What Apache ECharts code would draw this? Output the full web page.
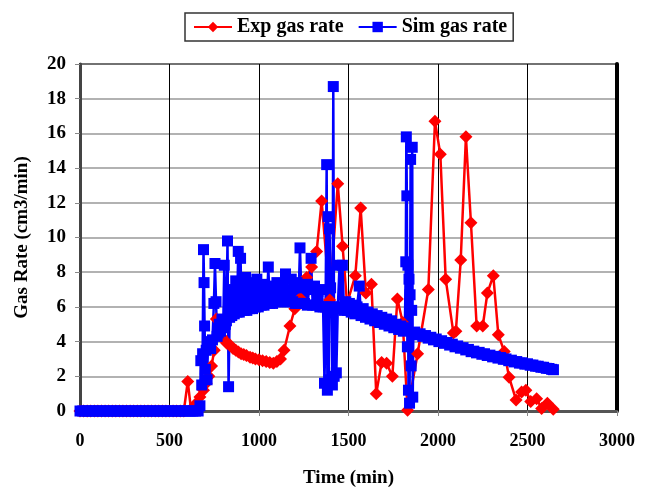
<!DOCTYPE html>
<html>
<head>
<meta charset="utf-8">
<script src="https://cdn.jsdelivr.net/npm/echarts@6/dist/echarts.min.js"></script>
<style>
  html, body { margin: 0; padding: 0; background: #fff; }
  #chart { width: 648px; height: 491px; }
</style>
</head>
<body>
<div id="chart"></div>
<script>
// Exp gas rate (time in min, rate in cm3/min)
var expTime = [0, 20, 40, 60, 80, 100, 120, 140, 160, 180, 200, 220, 240, 260, 280, 300, 320, 340, 360, 380, 400, 420, 440, 460, 480, 500, 520, 540, 560,
  580, 602, 620, 640, 655, 670, 690, 705, 720, 735, 750, 762, 775, 790, 805, 820, 838, 855, 870, 885, 900, 915, 930, 950, 965, 980,
  1000, 1020, 1040, 1060, 1080, 1100, 1120, 1140, 1173, 1200, 1230, 1266, 1294, 1322, 1350, 1395, 1440, 1467, 1492, 1538, 1568,
  1597, 1628, 1655, 1685, 1713, 1745, 1773, 1803, 1830, 1886, 1946, 1983, 2013, 2043, 2086, 2100, 2127, 2156, 2184, 2216, 2250,
  2276, 2309, 2337, 2370, 2397, 2436, 2467, 2491, 2518, 2551, 2579, 2611, 2644];
var expRate = [0, 0, 0, 0, 0, 0, 0, 0, 0, 0, 0, 0, 0, 0, 0, 0, 0, 0, 0, 0, 0, 0, 0, 0, 0, 0, 0, 0, 0,
  0, 1.7, 0.1, 0.3, 0.5, 0.8, 1.2, 1.6, 2.0, 2.6, 3.5, 5.3, 4.6, 4.3, 4.1, 3.9, 3.8, 3.6, 3.5, 3.4, 3.3, 3.25, 3.2, 3.1, 3.05, 3.0,
  2.95, 2.9, 2.85, 2.8, 2.75, 2.85, 3.0, 3.5, 4.9, 5.9, 6.5, 7.7, 8.3, 9.2, 12.1, 6.4, 13.1, 9.5, 6.2, 7.8, 11.7,
  6.8, 7.3, 1.0, 2.8, 2.75, 2.0, 6.45, 5.1, 0.05, 3.3, 7.0, 16.7, 14.8, 7.6, 4.5, 4.6, 8.7, 15.8, 10.85, 4.9, 4.9,
  6.8, 7.8, 4.4, 3.43, 1.95, 0.64, 1.1, 1.2, 0.55, 0.7, 0.15, 0.44, 0.1];

// Sim gas rate
var simTime = [0, 15, 30, 45, 60, 75, 90, 105, 120, 135, 150, 165, 180, 195, 210, 225, 240, 255, 270, 285, 300, 315, 330, 345, 360,
  375, 390, 405, 420, 435, 450, 465, 480, 495, 510, 525, 540, 555, 570, 585, 600, 615, 630, 645, 660,
  670, 675, 680, 685, 690, 693, 696, 700, 705, 710, 715, 722, 730, 740, 748, 754, 760, 766, 772, 778, 785, 793, 800, 806, 812, 818,
  824, 830, 836, 842, 848, 855, 862, 870, 877, 884, 890, 897, 903, 910, 917, 925, 932, 940, 948, 956, 964, 972, 980, 988, 996,
  1004, 1012, 1020, 1028, 1036, 1044, 1052, 1060, 1068, 1076, 1084, 1092, 1100, 1108, 1116, 1124, 1132, 1140, 1148, 1156, 1164,
  1172, 1180, 1188, 1196, 1204, 1212, 1220, 1229, 1238, 1246, 1254, 1262, 1270, 1280, 1291, 1300, 1310, 1320, 1330, 1340, 1350,
  1358, 1366, 1372, 1378, 1382, 1386, 1390, 1394, 1400, 1405, 1410, 1415, 1420, 1425, 1432, 1440, 1450, 1458, 1466, 1475, 1485,
  1495, 1505, 1515, 1525, 1535, 1548, 1560, 1570, 1582, 1595, 1608, 1620, 1633, 1646, 1660, 1673, 1686, 1700, 1713, 1726, 1740,
  1753, 1766, 1780, 1793, 1806, 1815, 1820, 1823, 1826, 1829, 1832, 1835, 1838, 1841, 1844, 1847, 1850, 1853, 1856, 1859, 1862,
  1870, 1885, 1900, 1915, 1930, 1945, 1960, 1975, 1990, 2005, 2020, 2035, 2050, 2065, 2080, 2095, 2110, 2125, 2140, 2155, 2170,
  2185, 2200, 2215, 2230, 2245, 2260, 2275, 2290, 2305, 2320, 2335, 2350, 2365, 2380, 2395, 2410, 2425, 2440, 2455, 2470, 2485,
  2500, 2515, 2530, 2545, 2560, 2575, 2590, 2605, 2620, 2635, 2645];
var simRate = [0, 0, 0, 0, 0, 0, 0, 0, 0, 0, 0, 0, 0, 0, 0, 0, 0, 0, 0, 0, 0, 0, 0, 0, 0,
  0, 0, 0, 0, 0, 0, 0, 0, 0, 0, 0, 0, 0, 0, 0, 0, 0, 0, 0, 0,
  0.3, 2.9, 1.5, 3.3, 9.3, 7.4, 4.9, 2.4, 3.5, 1.8, 3.8, 4.0, 3.6, 4.1, 6.2, 8.5, 6.3, 4.3, 4.5, 5.0, 4.6, 5.3, 4.8, 8.4, 5.0, 5.2,
  9.8, 1.4, 5.4, 7.0, 5.5, 6.6, 5.6, 7.5, 5.7, 9.2, 5.7, 8.8, 5.8, 7.2, 5.8, 7.7, 5.8, 6.9, 5.9, 7.4, 5.9, 7.0, 6.0, 7.6, 6.0,
  6.9, 6.1, 7.3, 6.1, 7.0, 6.2, 8.3, 6.2, 7.2, 6.2, 6.9, 6.3, 7.4, 6.3, 7.0, 6.3, 7.3, 6.3, 7.9, 6.3, 7.0,
  6.3, 7.6, 6.3, 7.1, 6.2, 7.4, 6.2, 9.4, 6.2, 7.1, 6.2, 7.3, 6.1, 7.0, 8.8, 6.1, 7.2, 6.1, 6.9, 6.0, 7.0,
  6.0, 1.6, 6.0, 14.2, 1.2, 11.2, 1.8, 10.5, 7.1, 6.0, 1.5, 18.7, 2.0, 6.0, 2.2, 5.9, 8.4, 5.9, 8.4, 5.8, 6.3,
  5.8, 6.2, 5.7, 6.1, 5.6, 6.0, 7.2, 5.5, 5.9, 5.4, 5.7, 5.3, 5.6, 5.2, 5.5, 5.1, 5.4, 5.0, 5.3, 4.9, 5.2,
  4.8, 5.0, 4.7, 4.9, 4.6, 4.8, 8.6, 15.8, 12.4, 3.7, 8.4, 1.2, 7.6, 0.45, 6.7, 14.5, 2.6, 5.8, 15.2, 0.8, 4.4,
  4.55, 4.4, 4.45, 4.3, 4.35, 4.2, 4.25, 4.1, 4.15, 4.0, 4.05, 3.9, 3.95, 3.8, 3.85, 3.7, 3.75, 3.62, 3.65, 3.52, 3.55,
  3.42, 3.45, 3.35, 3.38, 3.27, 3.3, 3.2, 3.22, 3.12, 3.15, 3.05, 3.08, 2.98, 3.0, 2.9, 2.93, 2.83, 2.85, 2.76, 2.78, 2.7,
  2.72, 2.64, 2.65, 2.58, 2.58, 2.52, 2.52, 2.46, 2.45, 2.4, 2.38];

var font = "'Liberation Serif', 'Times New Roman', serif";

function pairs(xs, ys) {
  return xs.map(function (x, i) { return [x, ys[i]]; });
}

var chart = echarts.init(document.getElementById('chart'));
var option = {
  animation: false,
  backgroundColor: '#fff',
  legend: {
    left: 185,
    top: 13,
    padding: [4, 6, 4, 8],
    itemWidth: 38,
    itemHeight: 13,
    itemGap: 14,
    borderColor: '#333',
    borderWidth: 1.5,
    textStyle: { fontFamily: font, fontWeight: 'bold', fontSize: 20, color: '#000' },
    data: ['Exp gas rate', 'Sim gas rate']
  },
  grid: {
    left: 80,
    right: 31,
    top: 64,
    bottom: 80,
    outerBoundsMode: 'none',
    show: true,
    borderColor: '#000',
    borderWidth: 2
  },
  xAxis: {
    type: 'value',
    min: 0,
    max: 3000,
    interval: 500,
    name: 'Time (min)',
    nameLocation: 'middle',
    nameGap: 58,
    nameTextStyle: { fontFamily: font, fontWeight: 'bold', fontSize: 19, color: '#000' },
    axisLine: { show: true, onZero: false, lineStyle: { color: '#555', width: 3 } },
    axisTick: { show: true, length: 5, lineStyle: { color: '#888' } },
    axisLabel: {
      margin: 21,
      fontFamily: font, fontWeight: 'bold', fontSize: 18, color: '#000',
      formatter: function (v) { return String(v); }
    },
    splitLine: { show: true, lineStyle: { color: '#000', width: 1 } }
  },
  yAxis: [{
    type: 'value',
    min: 0,
    max: 20,
    interval: 2,
    name: 'Gas Rate (cm3/min)',
    nameLocation: 'middle',
    nameGap: 48,
    nameTextStyle: { fontFamily: font, fontWeight: 'bold', fontSize: 19, color: '#000' },
    axisLine: { show: true, lineStyle: { color: '#444', width: 3 } },
    axisTick: { show: true, length: 5, lineStyle: { color: '#888' } },
    axisLabel: { margin: 14, fontFamily: font, fontWeight: 'bold', fontSize: 19, color: '#000' },
    splitLine: { show: true, lineStyle: { color: '#999', width: 1.5 } }
  }, {
    type: 'value',
    position: 'right',
    min: 0,
    max: 20,
    interval: 2,
    axisLine: { show: true, lineStyle: { color: '#000', width: 4 } },
    axisTick: { show: false },
    axisLabel: { show: false },
    splitLine: { show: false }
  }],
  series: [
    {
      name: 'Exp gas rate',
      type: 'line',
      data: pairs(expTime, expRate),
      symbol: 'diamond',
      symbolSize: 13,
      itemStyle: { color: '#ff0000' },
      lineStyle: { color: '#ff0000', width: 2.5 }
    },
    {
      name: 'Sim gas rate',
      type: 'line',
      data: pairs(simTime, simRate),
      symbol: 'rect',
      symbolSize: 11,
      itemStyle: { color: '#0000ff' },
      lineStyle: { color: '#0000ff', width: 2.5 }
    }
  ]
};
chart.setOption(option);
</script>
</body>
</html>
